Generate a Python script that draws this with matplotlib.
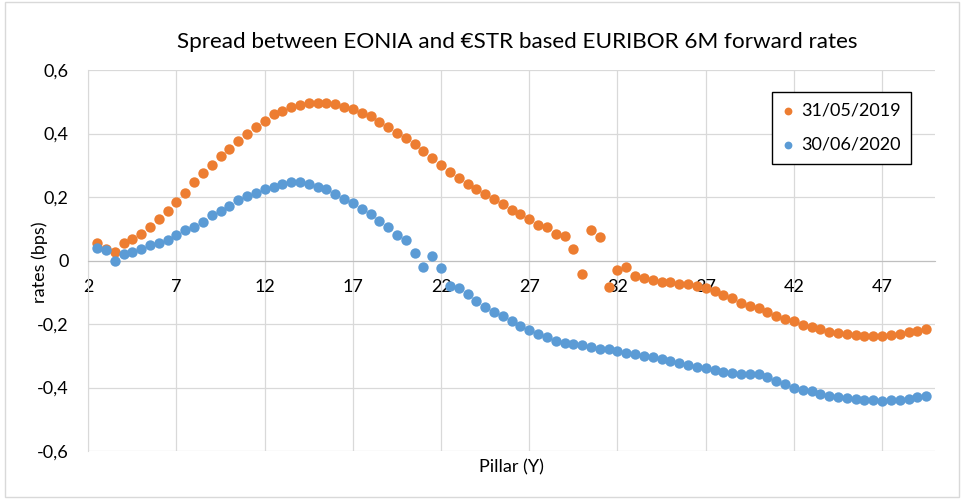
import numpy as np
import matplotlib
matplotlib.use('Agg')
import matplotlib.pyplot as plt
from matplotlib.patches import Rectangle
from matplotlib.ticker import FuncFormatter

plt.rcParams['font.family'] = ['Lato', 'DejaVu Sans']

# pillars in years, one point every half year
pillar = np.arange(2.5, 50.0, 0.5)

# spread, 31/05/2019 curve
spread_2019 = [
    0.055, 0.036, 0.028, 0.055, 0.069, 0.084, 0.104, 0.131, 0.156, 0.183,
    0.214, 0.247, 0.276, 0.302, 0.328, 0.352, 0.376, 0.400, 0.421, 0.440,
    0.461, 0.471, 0.483, 0.490, 0.496, 0.496, 0.496, 0.492, 0.485, 0.477,
    0.464, 0.454, 0.437, 0.421, 0.403, 0.385, 0.366, 0.344, 0.323, 0.301,
    0.280, 0.259, 0.240, 0.224, 0.208, 0.193, 0.177, 0.160, 0.146, 0.131,
    0.113, 0.107, 0.082, 0.077, 0.037, -0.042, 0.095, 0.074, -0.082, -0.030,
    -0.021, -0.049, -0.054, -0.061, -0.067, -0.069, -0.074, -0.074, -0.080, -0.088,
    -0.097, -0.108, -0.118, -0.133, -0.142, -0.150, -0.161, -0.175, -0.184, -0.192,
    -0.203, -0.210, -0.217, -0.224, -0.229, -0.231, -0.234, -0.237, -0.237, -0.237,
    -0.236, -0.230, -0.226, -0.222, -0.216,
]

# 30/06/2020 curve
spread_2020 = [
    0.040, 0.033, -0.002, 0.019, 0.026, 0.037, 0.048, 0.054, 0.063, 0.080,
    0.096, 0.105, 0.121, 0.142, 0.157, 0.173, 0.191, 0.202, 0.212, 0.226,
    0.233, 0.241, 0.246, 0.246, 0.241, 0.233, 0.224, 0.210, 0.195, 0.180,
    0.163, 0.146, 0.125, 0.106, 0.079, 0.063, 0.024, -0.019, 0.014, -0.025,
    -0.081, -0.088, -0.106, -0.127, -0.146, -0.162, -0.176, -0.192, -0.206, -0.218,
    -0.230, -0.240, -0.252, -0.259, -0.264, -0.267, -0.273, -0.278, -0.280, -0.285,
    -0.290, -0.296, -0.301, -0.305, -0.310, -0.316, -0.322, -0.328, -0.334, -0.339,
    -0.345, -0.350, -0.354, -0.357, -0.359, -0.359, -0.368, -0.381, -0.389, -0.400,
    -0.407, -0.412, -0.419, -0.426, -0.430, -0.432, -0.436, -0.438, -0.440, -0.441,
    -0.438, -0.438, -0.435, -0.431, -0.427,
]

labels = ['31/05/2019', '30/06/2020']
colors = ['#ED7D31', '#5B9BD5']
x_ticks = [2, 7, 12, 17, 22, 27, 32, 37, 42, 47]
y_ticks = [-0.6, -0.4, -0.2, 0, 0.2, 0.4, 0.6]

fig = plt.figure(figsize=(9.65, 4.99), dpi=100)
ax = fig.add_axes([88.3 / 965, 48 / 499, (935 - 88.3) / 965, (451 - 70) / 499])

for vals, lab, col in zip([spread_2019, spread_2020], labels, colors):
    ax.scatter(pillar, vals, s=56, color=col, linewidths=0, label=lab, zorder=3)

ax.set_xlim(2, 50)
ax.set_ylim(-0.6, 0.6)
ax.set_xticks(x_ticks)
ax.set_yticks(y_ticks)


def comma_fmt(v, pos):
    if abs(v) < 1e-9:
        return '0'
    return f'{v:.1f}'.replace('.', ',')


ax.yaxis.set_major_formatter(FuncFormatter(comma_fmt))

ax.grid(True, color='#D9D9D9', linewidth=0.9, zorder=0)
ax.set_axisbelow(True)
for side in ['top', 'right']:
    ax.spines[side].set_visible(False)
ax.spines['left'].set_color('#D9D9D9')
ax.spines['bottom'].set_position(('data', 0))
ax.spines['bottom'].set_color('#BFBFBF')
ax.tick_params(axis='both', length=0, labelsize=13, colors='#000000')
ax.tick_params(axis='x', pad=13)
ax.tick_params(axis='y', pad=14)

fig.text(517 / 965, 1 - 42 / 499, 'Spread between EONIA and €STR based EURIBOR 6M forward rates',
         ha='center', va='center', fontsize=16.2)
fig.text(40 / 965, 1 - 262 / 499, 'rates (bps)', rotation=90, ha='center', va='center', fontsize=13)
fig.text(511 / 965, 1 - 467 / 499, 'Pillar (Y)', ha='center', va='center', fontsize=13)

leg = fig.legend(loc='upper left', bbox_to_anchor=(772 / 965, 1 - 92 / 499), fontsize=13,
                 frameon=True, fancybox=False, framealpha=1, edgecolor='black',
                 markerscale=0.75, handlelength=0.6, handletextpad=0.4, labelspacing=1.0,
                 borderpad=0.6, borderaxespad=0)
leg.get_frame().set_linewidth(1.0)

# light frame around the whole chart
fig.patches.append(Rectangle((5 / 965, 2 / 499), 954 / 965, 495 / 499, transform=fig.transFigure,
                             fill=False, edgecolor='#D9D9D9', linewidth=1))

fig.savefig('out.png', dpi=100)
